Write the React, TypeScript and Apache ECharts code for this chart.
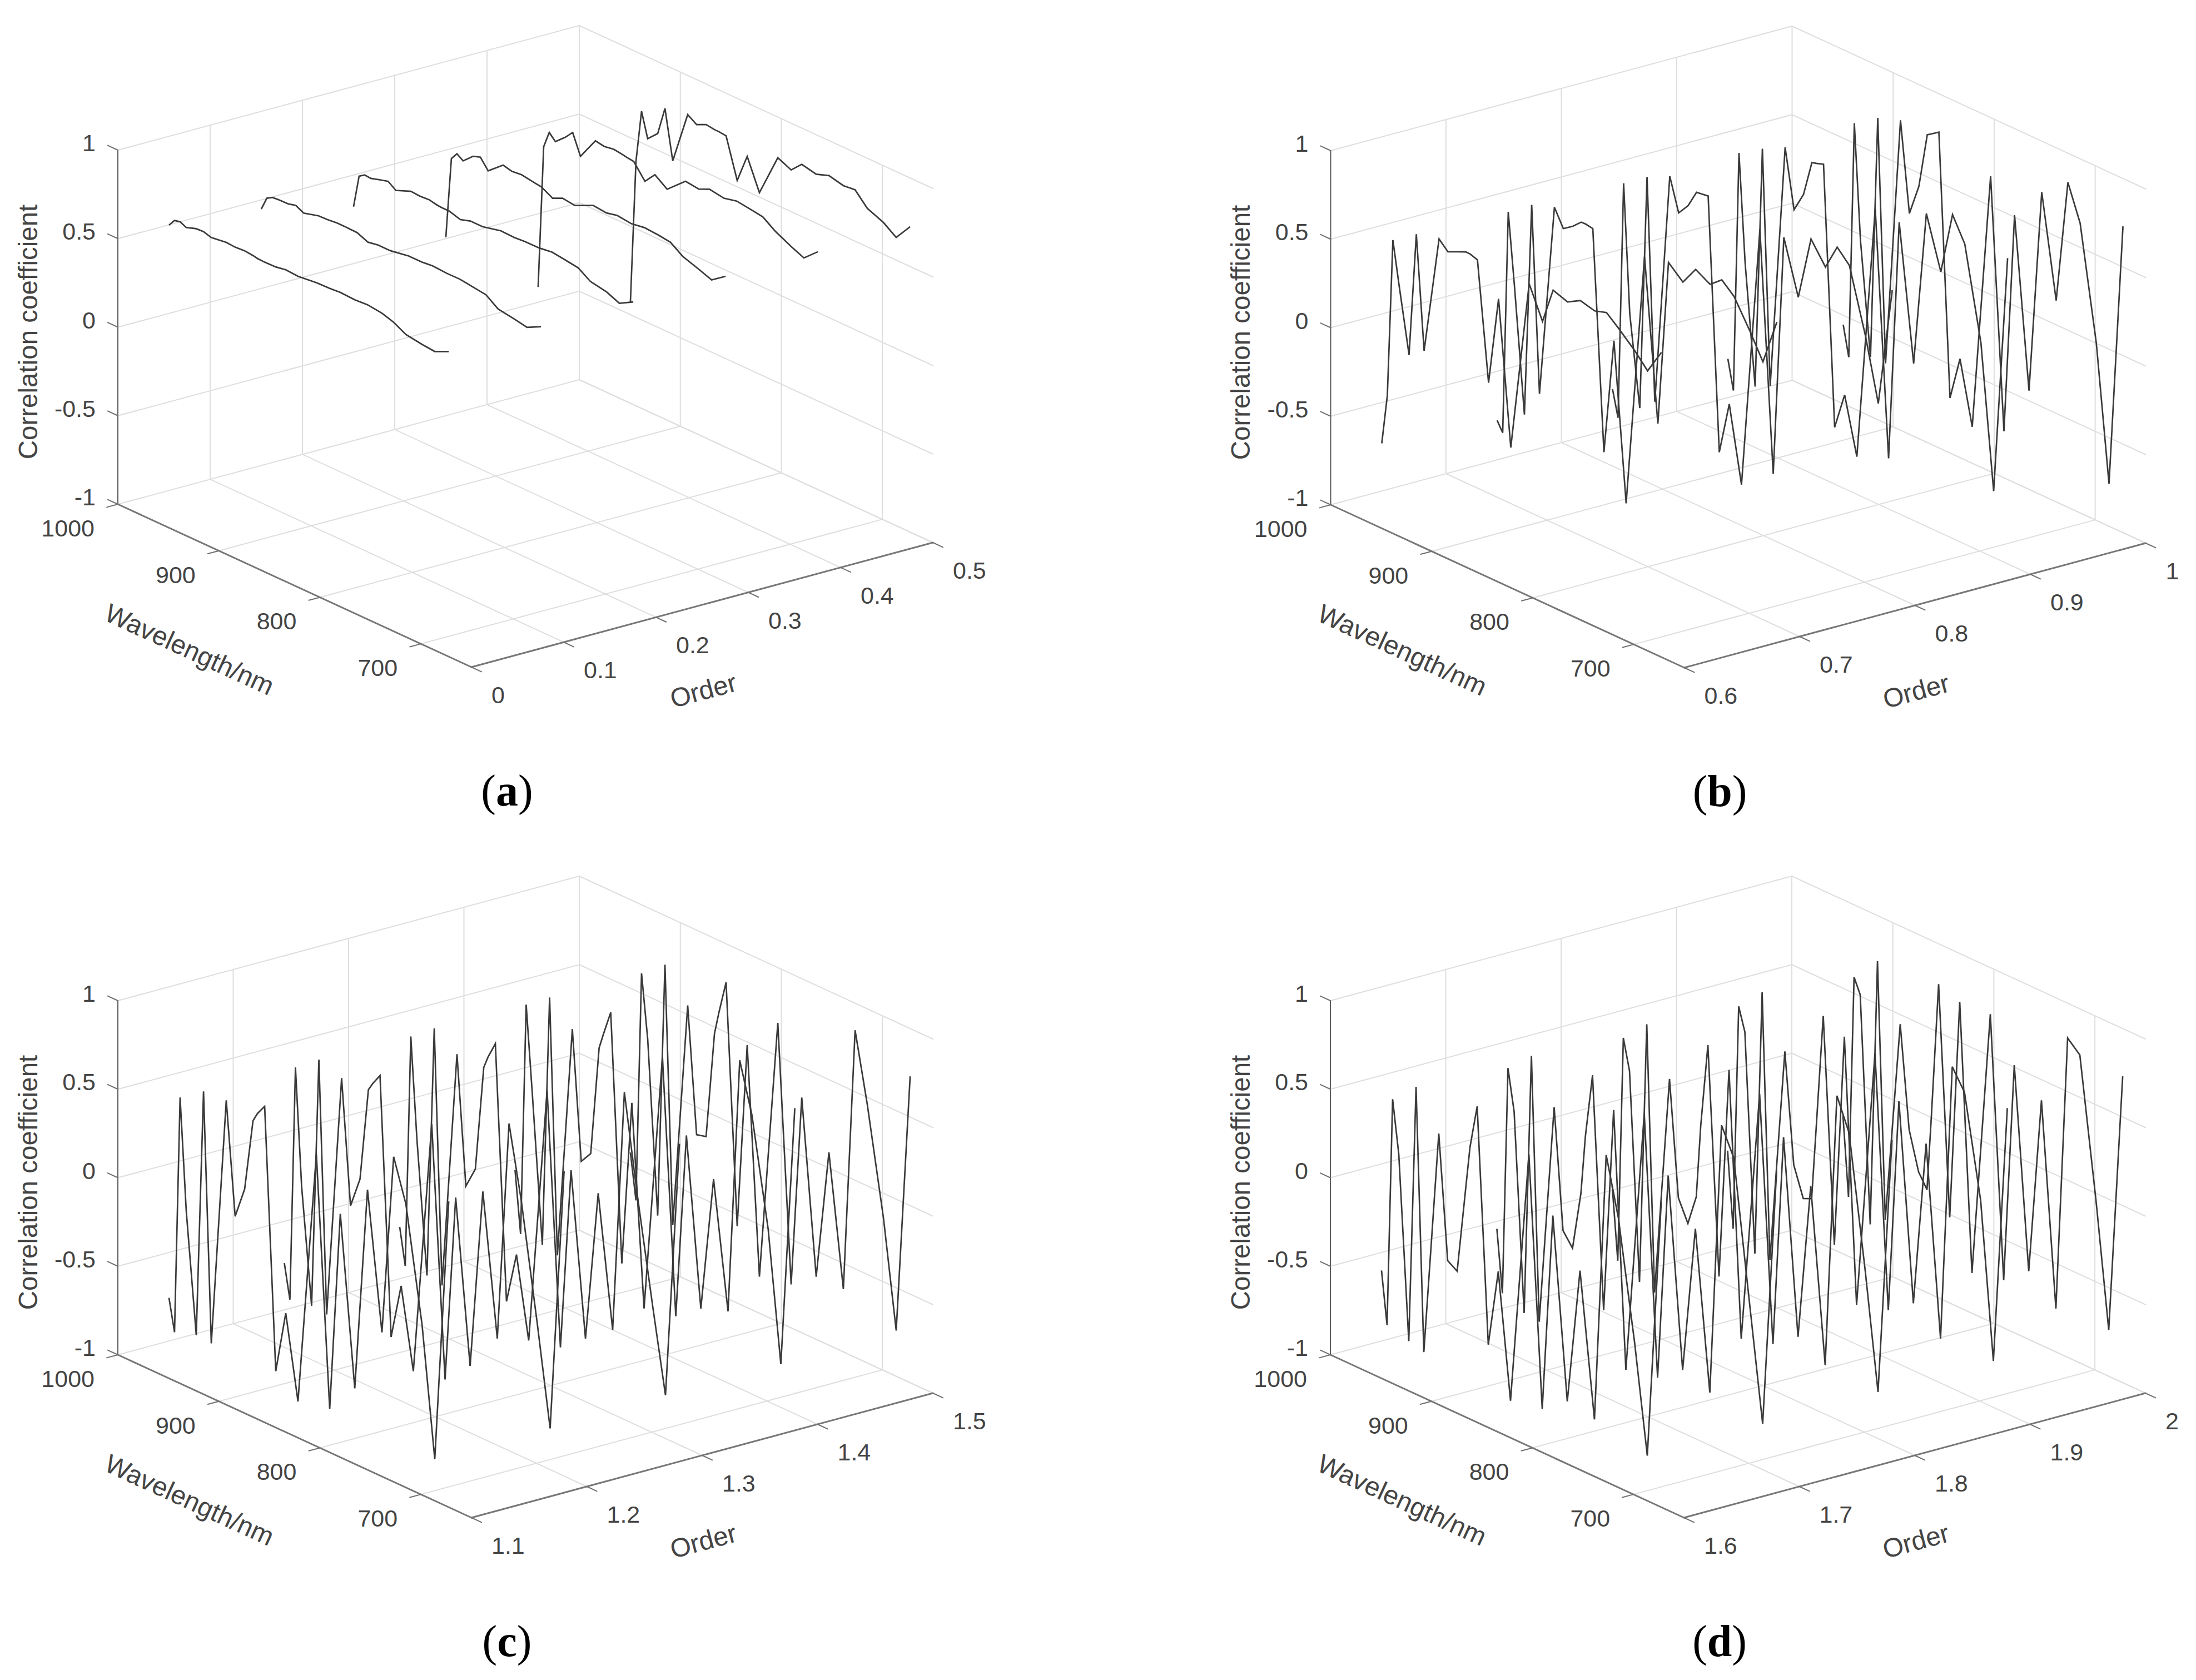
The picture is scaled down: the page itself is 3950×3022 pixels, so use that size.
import React, { useEffect, useRef } from "react";
import * as echarts from "echarts";

const wavelengths = [949.4, 943.9, 938.4, 932.3, 922.4, 915.2, 907.5, 892.7, 883.9, 874.5, 866.2, 861.8, 854.7, 843.7, 833.8, 821.7, 803.5, 790.3, 779.8, 765.5, 752.9, 738.6, 727, 714.9, 698.9, 686.3, 672.5];
const zTicks = [-1, -0.5, 0, 0.5, 1];
const zLabels = ["-1", "-0.5", "0", "0.5", "1"];
const wlTicks = [1000, 900, 800, 700];
const wlMin = 650;
const wlMax = 1000;

const ordersA = [0, 0.1, 0.2, 0.3, 0.4, 0.5];
const ordersB = [0.6, 0.7, 0.8, 0.9, 1];
const ordersC = [1.1, 1.2, 1.3, 1.4, 1.5];
const ordersD = [1.6, 1.7, 1.8, 1.9, 2];
const labelsA = ["0", "0.1", "0.2", "0.3", "0.4", "0.5"];
const labelsB = ["0.6", "0.7", "0.8", "0.9", "1"];
const labelsC = ["1.1", "1.2", "1.3", "1.4", "1.5"];
const labelsD = ["1.6", "1.7", "1.8", "1.9", "2"];

const a0 = [.709,.750,.757,.741,.760,.762,.749,.761,.757,.761,.756,.751,.749,.751,.761,.756,.768,.770,.775,.771,.776,.766,.745,.708,.694,.687,.723];
const a1 = [.659,.735,.754,.757,.759,.770,.747,.770,.772,.778,.778,.777,.776,.750,.760,.760,.778,.778,.784,.779,.780,.769,.760,.711,.697,.683,.723];
const a2 = [.532,.719,.740,.737,.754,.765,.734,.768,.764,.768,.758,.756,.756,.737,.755,.755,.779,.776,.781,.782,.792,.781,.771,.726,.709,.678,.722];
const a3 = [.218,.678,.719,.695,.747,.761,.704,.775,.763,.769,.761,.757,.752,.717,.743,.734,.782,.774,.788,.778,.790,.784,.775,.727,.696,.669,.726];
const a4 = [-.203,.604,.699,.663,.714,.760,.645,.772,.763,.772,.765,.760,.755,.672,.735,.685,.778,.768,.795,.782,.799,.788,.778,.730,.684,.653,.724];
const a5 = [-.427,.380,.678,.539,.594,.755,.479,.779,.746,.771,.764,.764,.759,.536,.698,.525,.770,.736,.795,.777,.802,.783,.790,.717,.679,.628,.725];

const b0 = [-.520,-.235,.657,.419,.051,.751,.113,.783,.734,.759,.780,.779,.765,.100,.600,-.208,.765,.587,.791,.762,.803,.782,.803,.745,.661,.581,.722];
const b1 = [-.566,-.622,.640,.241,-.462,.741,-.306,.787,.689,.727,.772,.773,.766,-.468,.188,-.699,.742,-.166,.772,.698,.803,.756,.812,.750,.593,.456,.717];
const b2 = [-.565,-.713,.626,-.096,-.602,.723,-.527,.786,.602,.668,.765,.768,.774,-.644,-.346,-.770,.720,-.625,.737,.437,.799,.678,.821,.749,.391,.045,.721];
const b3 = [-.570,-.735,.622,.016,-.656,.706,-.613,.773,.444,.555,.757,.764,.778,-.679,-.470,-.787,.661,-.714,.647,-.113,.767,.475,.829,.695,.179,-.626,.726];
const b4 = [-.553,-.722,.614,-.034,-.665,.705,-.662,.750,.247,.425,.738,.755,.783,-.689,-.442,-.794,.669,-.737,.511,-.442,.712,.137,.835,.637,.003,-.760,.730];

const c0 = [-.545,-.725,.615,-.010,-.685,.710,-.692,.719,.087,.266,.674,.726,.785,-.682,-.328,-.795,.649,-.754,.375,-.573,.582,-.186,.836,.601,-.038,-.765,.727];
const c1 = [-.525,-.717,.609,-.046,-.695,.714,-.705,.669,-.029,.146,.673,.720,.783,-.664,-.350,-.800,.643,-.764,.291,-.623,.396,-.397,.848,.446,-.214,-.767,.721];
const c2 = [-.497,-.702,.608,.039,-.700,.715,-.717,.628,-.094,.027,.623,.695,.787,-.639,-.349,-.802,.658,-.759,.269,-.644,.210,-.523,.849,.330,-.289,-.756,.701];
const c3 = [-.352,-.698,.612,.123,-.702,.713,-.723,.594,-.130,-.061,.557,.649,.788,-.601,.332,-.797,.672,-.759,.290,-.650,.114,-.595,.853,.575,-.024,-.756,.726];
const c4 = [-.428,-.684,.613,.258,-.713,.723,-.728,.552,-.155,-.141,.462,.593,.782,-.566,.483,-.793,.687,-.755,.328,-.646,.089,-.645,.847,.459,-.140,-.742,.730];

const d0 = [-.391,-.685,.605,.311,-.719,.736,-.742,.531,-.163,-.198,.284,.536,.785,-.532,-.092,-.791,.649,-.754,.365,-.647,.125,-.678,.846,.522,-.138,-.745,.723];
const d1 = [-.331,-.681,.605,.375,-.736,.736,-.746,.505,-.169,-.244,.088,.420,.785,-.514,.644,-.792,.703,-.754,.415,-.645,.186,-.702,.838,.686,-.113,-.741,.721];
const d2 = [-.266,-.673,.600,.430,-.736,.738,-.757,.488,-.160,-.280,-.108,.304,.779,-.499,.694,-.792,.638,-.740,.456,-.634,.250,-.723,.829,.650,-.089,-.737,.722];
const d3 = [-.242,-.668,.602,.474,-.752,.743,-.749,.468,-.150,-.315,-.294,.108,.768,-.495,.706,-.777,.692,-.725,.484,-.620,.315,-.749,.817,.705,.136,-.738,.726];
const d4 = [-.218,-.664,.592,.508,-.763,.743,-.698,.446,-.126,-.341,-.419,.013,.772,-.516,.727,-.773,.737,-.731,.512,-.615,.383,-.755,.803,.739,-.040,-.738,.730];

type Panel = { tag: string; dx: number; dy: number; orders: number[]; labels: string[]; curves: number[][] };
const panels: Panel[] = [
  { tag: "a", dx: 0, dy: 0, orders: ordersA, labels: labelsA, curves: [a0, a1, a2, a3, a4, a5] },
  { tag: "b", dx: 2181.5, dy: 1, orders: ordersB, labels: labelsB, curves: [b0, b1, b2, b3, b4] },
  { tag: "c", dx: 0, dy: 1530, orders: ordersC, labels: labelsC, curves: [c0, c1, c2, c3, c4] },
  { tag: "d", dx: 2181, dy: 1530, orders: ordersD, labels: labelsD, curves: [d0, d1, d2, d3, d4] },
];

const PW = 1760;
const PH = 1490;
const FONT = '"Liberation Sans", Arial, sans-serif';
const GRID = "#dedede";
const TEXT = "#444444";

function buildOption() {
  const grid: any[] = [];
  const xAxis: any[] = [];
  const yAxis: any[] = [];
  const series: any[] = [];
  const graphic: any[] = [];

  panels.forEach((p, gi) => {
    const oMin = p.orders[0];
    const oMax = p.orders[p.orders.length - 1];
    const project = (o: number, w: number, z: number): [number, number] => {
      const fo = (o - oMin) / (oMax - oMin);
      const fw = (wlMax - w) / (wlMax - wlMin);
      return [212 + 830 * fo + 636 * fw, 907 - 224 * fo + 293 * fw - 318.5 * (z + 1)];
    };
    grid.push({ left: p.dx, top: p.dy, width: PW, height: PH, show: false, containLabel: false });
    xAxis.push({ type: "value", gridIndex: gi, min: 0, max: PW, show: false });
    yAxis.push({ type: "value", gridIndex: gi, min: 0, max: PH, inverse: true, show: false });

    const seg = (a: [number, number], b: [number, number], color: string, width: number) =>
      series.push({
        type: "line", xAxisIndex: gi, yAxisIndex: gi, data: [a, b], symbol: "none", silent: true, clip: false,
        lineStyle: { color, width, cap: "round" },
      });

    // walls and floor grid
    zTicks.forEach((z) => {
      seg(project(oMin, wlMax, z), project(oMax, wlMax, z), GRID, 2);
      seg(project(oMax, wlMax, z), project(oMax, wlMin, z), GRID, 2);
    });
    p.orders.slice(1).forEach((o) => {
      seg(project(o, wlMax, -1), project(o, wlMax, 1), GRID, 2);
      seg(project(o, wlMax, -1), project(o, wlMin, -1), GRID, 2);
    });
    wlTicks.slice(1).forEach((w) => {
      seg(project(oMax, w, -1), project(oMax, w, 1), GRID, 2);
      seg(project(oMin, w, -1), project(oMax, w, -1), GRID, 2);
    });

    // axes
    const range = oMax - oMin;
    seg(project(oMin, wlMax, -1), project(oMin, wlMax, 1), "#5a5a5a", 2);
    seg(project(oMin, wlMax, -1), project(oMin, wlMin, -1), "#777777", 3);
    seg(project(oMin, wlMin, -1), project(oMax, wlMin, -1), "#777777", 3);
    zTicks.forEach((z) => seg(project(oMin, wlMax, z), project(oMin, wlMax + 10, z), "#707070", 2));
    wlTicks.forEach((w) => seg(project(oMin, w, -1), project(oMin - 0.024 * range, w, -1), "#707070", 2));
    p.orders.forEach((o) => seg(project(o, wlMin, -1), project(o, wlMin - 10, -1), "#707070", 2));

    // curves
    p.curves.forEach((vals, k) => {
      series.push({
        type: "line", name: `${p.tag}-${p.orders[k]}`, xAxisIndex: gi, yAxisIndex: gi, symbol: "none", clip: false, silent: true,
        data: vals.map((z, i) => project(p.orders[k], wavelengths[i], z)),
        lineStyle: { color: "#3a3a3a", width: 2.7, join: "miter" },
      });
    });

    // texts
    const T = (text: string, x: number, y: number, size: number, align: string, rotation = 0) =>
      graphic.push({
        type: "text", x: x + p.dx, y: y + p.dy, rotation, silent: true,
        style: { text, font: `${size}px ${FONT}`, fill: TEXT, align, verticalAlign: "middle" },
      });
    zTicks.forEach((z, i) => {
      const [, y] = project(oMin, wlMax, z);
      T(zLabels[i], 172, y - 13, 43, "right");
    });
    wlTicks.forEach((w) => {
      const [x, y] = project(oMin, w, -1);
      T(String(w), x - 42, y + 43, 43, "right");
    });
    p.orders.forEach((o, i) => {
      const [x, y] = project(o, wlMin, -1);
      T(p.labels[i], x + 36, y + 50, 43, "left");
    });
    T("Correlation coefficient", 50, 597, 47.5, "center", Math.PI / 2);
    T("Wavelength/nm", 341, 1168, 47.5, "center", -0.431);
    T("Order", 1265, 1242, 47.5, "center", 0.263);

    graphic.push({
      type: "text", x: 912 + p.dx, y: 1422 + p.dy, silent: true,
      style: {
        text: `{p|(}{b|${p.tag}}{p|)}`, align: "center", verticalAlign: "middle",
        rich: {
          p: { font: '80px "Liberation Serif", serif', fill: "#000000" },
          b: { font: 'bold 80px "Liberation Serif", serif', fill: "#000000" },
        },
      },
    });
  });

  return { animation: false, backgroundColor: "#ffffff", grid, xAxis, yAxis, series, graphic };
}

export default function App() {
  const ref = useRef<HTMLDivElement>(null);
  useEffect(() => {
    document.body.style.margin = "0";
    const chart = echarts.init(ref.current!, undefined, { renderer: "svg", width: 3950, height: 3022 });
    chart.setOption(buildOption() as any);
    return () => chart.dispose();
  }, []);
  return <div ref={ref} style={{ position: "absolute", left: 0, top: 0, width: 3950, height: 3022 }} />;
}
